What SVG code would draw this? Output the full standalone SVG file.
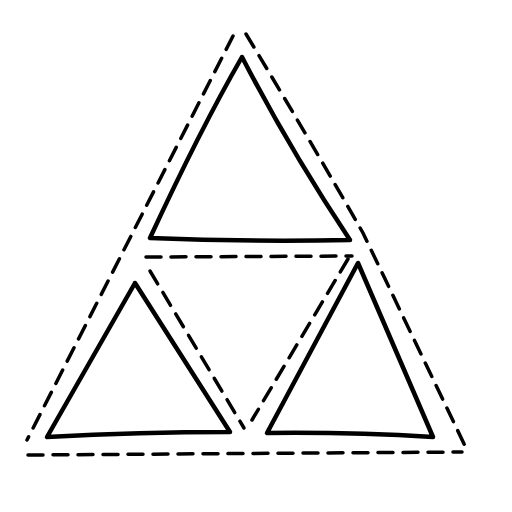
<svg xmlns="http://www.w3.org/2000/svg" width="512" height="512" viewBox="0 0 512 512">
<style>
.solid{fill:none;stroke:#000;stroke-width:4.5;stroke-linejoin:round;stroke-linecap:round}
.dash{fill:none;stroke:#000;stroke-width:3.5;stroke-dasharray:15 10;stroke-linecap:round}
</style>
<rect width="512" height="512" fill="#fff"/>
<g id="connectors">
<path class="dash" d="M233,36 L27,440"/>
<path class="dash" d="M246,34 Q310,140 363,233 L467,450"/>
<path class="dash" d="M28,455 L462,452"/>
<path class="dash" d="M146,257 L352,256"/>
<path class="dash" d="M150,271 L244,428"/>
<path class="dash" d="M348,259 L252,420"/>
</g>
<g id="top-triangle"><path class="solid" d="M242,57 Q200,130 150,238 Q250,242 350,240 Q290,150 242,57 Z"/></g>
<g id="left-triangle"><path class="solid" d="M135,283 L47,437 Q140,432 230,432 Z"/></g>
<g id="right-triangle"><path class="solid" d="M358,263 L267,433 Q350,432 433,437 Z"/></g>
</svg>
